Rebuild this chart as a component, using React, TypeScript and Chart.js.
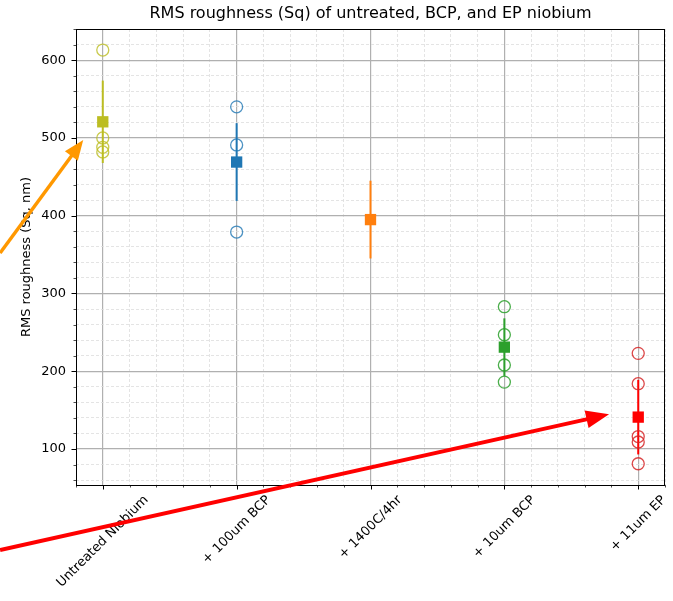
import { useEffect, useRef } from "react";
import { Chart, registerables } from "chart.js";

Chart.register(...registerables);

// Surface treatments, in processing order
const categories = ["Untreated Niobium", "+ 100um BCP", "+ 1400C/4hr", "+ 10um BCP", "+ 11um EP"];

// Mean Sq (nm) and its spread for each treatment
const meanSq = [520.75, 469, 395, 231, 141];
const errSq = [53, 50, 50, 37, 48];

// Individual scan results (nm)
const samplesUntreated = [613, 500, 488, 482];
const samples100BCP = [540, 491, 379];
const samples1400C: number[] = [];
const samples10BCP = [283, 247, 208, 186];
const samples11EP = [223, 184, 116, 109, 81];
const sampleGroups = [samplesUntreated, samples100BCP, samples1400C, samples10BCP, samples11EP];

const meanColors = ["#bcbd22", "#1f77b4", "#ff7f0e", "#2ca02c", "#ff0000"];
const sampleColors = [
  "rgba(188,189,34,0.8)",
  "rgba(31,119,180,0.8)",
  "rgba(255,127,14,0.8)",
  "rgba(44,160,44,0.85)",
  "rgba(214,39,40,0.85)",
];

// Axis extents
const xMin = -0.2;
const xMax = 4.2;
const yMin = 53.7;
const yMax = 640.1;
const yMajorTicks = [100, 200, 300, 400, 500, 600];

// Call-out arrows, ends given in data units (x = category index, y = nm)
const calloutArrows = [
  { from: [-0.767, 352], to: [-0.146, 497.4], color: "#ff9800", width: 3.5, head: 20, half: 8 },
  { from: [-0.767, -30], to: [3.782, 144.6], color: "#ff0000", width: 4, head: 23, half: 9 },
];

const FONT = "'DejaVu Sans', 'Liberation Sans', sans-serif";

const near = (v: number, step: number) => Math.abs(v / step - Math.round(v / step)) < 1e-6;

const axesDecor = {
  id: "axesDecor",
  afterDraw(chart: any) {
    const { ctx, chartArea: a } = chart;
    const xs = chart.scales.x;
    const ys = chart.scales.y;
    ctx.save();

    // frame
    ctx.strokeStyle = "#000";
    ctx.lineWidth = 1;
    ctx.strokeRect(a.left + 0.5, a.top + 0.5, a.right - a.left - 1, a.bottom - a.top);

    // x tick marks
    xs.ticks.forEach((t: any) => {
      const major = near(t.value, 1);
      const px = Math.round(xs.getPixelForValue(t.value)) + 0.5;
      ctx.lineWidth = major ? 1 : 0.7;
      ctx.beginPath();
      ctx.moveTo(px, a.bottom);
      ctx.lineTo(px, a.bottom + (major ? 4.5 : 2.5));
      ctx.stroke();
    });
    // y tick marks
    ys.ticks.forEach((t: any) => {
      const major = near(t.value, 100);
      const py = Math.round(ys.getPixelForValue(t.value)) + 0.5;
      ctx.lineWidth = major ? 1 : 0.7;
      ctx.beginPath();
      ctx.moveTo(a.left, py);
      ctx.lineTo(a.left - (major ? 4.5 : 2.5), py);
      ctx.stroke();
    });

    ctx.fillStyle = "#000";
    // y tick labels
    ctx.font = `13px ${FONT}`;
    ctx.textAlign = "right";
    ctx.textBaseline = "middle";
    yMajorTicks.forEach((v) => {
      ctx.fillText(String(v), a.left - 10, ys.getPixelForValue(v));
    });

    // x tick labels, rotated 45 degrees and centred under each tick
    categories.forEach((c, i) => {
      const px = xs.getPixelForValue(i);
      const w = ctx.measureText(c).width;
      const box = (w + 14) * Math.SQRT1_2;
      ctx.save();
      ctx.translate(px, a.bottom + 8 + box / 2);
      ctx.rotate(-Math.PI / 4);
      ctx.textAlign = "center";
      ctx.textBaseline = "middle";
      ctx.fillText(c, 0, 0);
      ctx.restore();
    });

    // y axis title
    ctx.save();
    ctx.translate(27, (a.top + a.bottom) / 2);
    ctx.rotate(-Math.PI / 2);
    ctx.textAlign = "center";
    ctx.textBaseline = "middle";
    ctx.fillText("RMS roughness (Sq, nm)", 0, 0);
    ctx.restore();

    // title
    ctx.font = `16px ${FONT}`;
    ctx.textAlign = "center";
    ctx.textBaseline = "middle";
    ctx.fillText("RMS roughness (Sq) of untreated, BCP, and EP niobium", (a.left + a.right) / 2, 14);

    // call-out arrows
    calloutArrows.forEach((ar) => {
      const x0 = xs.getPixelForValue(ar.from[0]);
      const y0 = ys.getPixelForValue(ar.from[1]);
      const x1 = xs.getPixelForValue(ar.to[0]);
      const y1 = ys.getPixelForValue(ar.to[1]);
      const len = Math.hypot(x1 - x0, y1 - y0);
      const ux = (x1 - x0) / len;
      const uy = (y1 - y0) / len;
      const bx = x1 - ux * ar.head;
      const by = y1 - uy * ar.head;
      ctx.strokeStyle = ar.color;
      ctx.fillStyle = ar.color;
      ctx.lineWidth = ar.width;
      ctx.lineCap = "butt";
      ctx.beginPath();
      ctx.moveTo(x0, y0);
      ctx.lineTo(bx + ux * 2, by + uy * 2);
      ctx.stroke();
      ctx.beginPath();
      ctx.moveTo(x1, y1);
      ctx.lineTo(bx - uy * ar.half, by + ux * ar.half);
      ctx.lineTo(bx + uy * ar.half, by - ux * ar.half);
      ctx.closePath();
      ctx.fill();
    });

    ctx.restore();
  },
};

export default function App() {
  const ref = useRef<HTMLCanvasElement | null>(null);

  useEffect(() => {
    if (!ref.current) return;
    const datasets: any[] = [];
    categories.forEach((_, i) => {
      datasets.push({
        type: "line",
        data: [
          { x: i, y: meanSq[i] - errSq[i] },
          { x: i, y: meanSq[i] + errSq[i] },
        ],
        showLine: true,
        borderColor: meanColors[i],
        borderWidth: 2,
        pointRadius: 0,
        order: 3,
      });
      datasets.push({
        data: [{ x: i, y: meanSq[i] }],
        pointStyle: "rect",
        pointRadius: 8,
        backgroundColor: meanColors[i],
        borderColor: meanColors[i],
        borderWidth: 0,
        order: 2,
      });
      datasets.push({
        data: sampleGroups[i].map((v) => ({ x: i, y: v })),
        pointStyle: "circle",
        pointRadius: 6,
        borderWidth: 1.3,
        backgroundColor: "rgba(0,0,0,0)",
        borderColor: sampleColors[i],
        order: 1,
      });
    });

    const chart = new Chart(ref.current, {
      type: "scatter",
      data: { datasets },
      options: {
        animation: false,
        responsive: false,
        devicePixelRatio: 1,
        layout: { padding: { left: 76, right: 7, top: 29, bottom: 116 } },
        plugins: { legend: { display: false }, tooltip: { enabled: false }, title: { display: false } },
        scales: {
          x: {
            type: "linear",
            min: xMin,
            max: xMax,
            afterBuildTicks: (s: any) => {
              const t = [];
              for (let k = 0; k <= 22; k++) t.push({ value: +(xMin + k * 0.2).toFixed(4) });
              s.ticks = t;
            },
            ticks: { display: false },
            border: {
              display: false,
              dash: (c: any) => (c.tick && near(c.tick.value, 1) ? [] : [3, 2]),
            },
            grid: {
              drawTicks: false,
              color: (c: any) => (c.tick && near(c.tick.value, 1) ? "#b0b0b0" : "#dddddd"),
              lineWidth: (c: any) => (c.tick && near(c.tick.value, 1) ? 1.2 : 0.8),
            },
          },
          y: {
            type: "linear",
            min: yMin,
            max: yMax,
            afterBuildTicks: (s: any) => {
              const t = [];
              for (let v = 60; v <= 640; v += 20) t.push({ value: v });
              s.ticks = t;
            },
            ticks: { display: false },
            border: {
              display: false,
              dash: (c: any) => (c.tick && near(c.tick.value, 100) ? [] : [3, 2]),
            },
            grid: {
              drawTicks: false,
              color: (c: any) => (c.tick && near(c.tick.value, 100) ? "#b0b0b0" : "#dddddd"),
              lineWidth: (c: any) => (c.tick && near(c.tick.value, 100) ? 1.2 : 0.8),
            },
          },
        },
      },
      plugins: [axesDecor],
    } as any);
    return () => chart.destroy();
  }, []);

  return (
    <div style={{ position: "absolute", left: 0, top: 0, width: 673, height: 601, background: "#fff" }}>
      <canvas ref={ref} width={673} height={601} style={{ display: "block" }} />
    </div>
  );
}
